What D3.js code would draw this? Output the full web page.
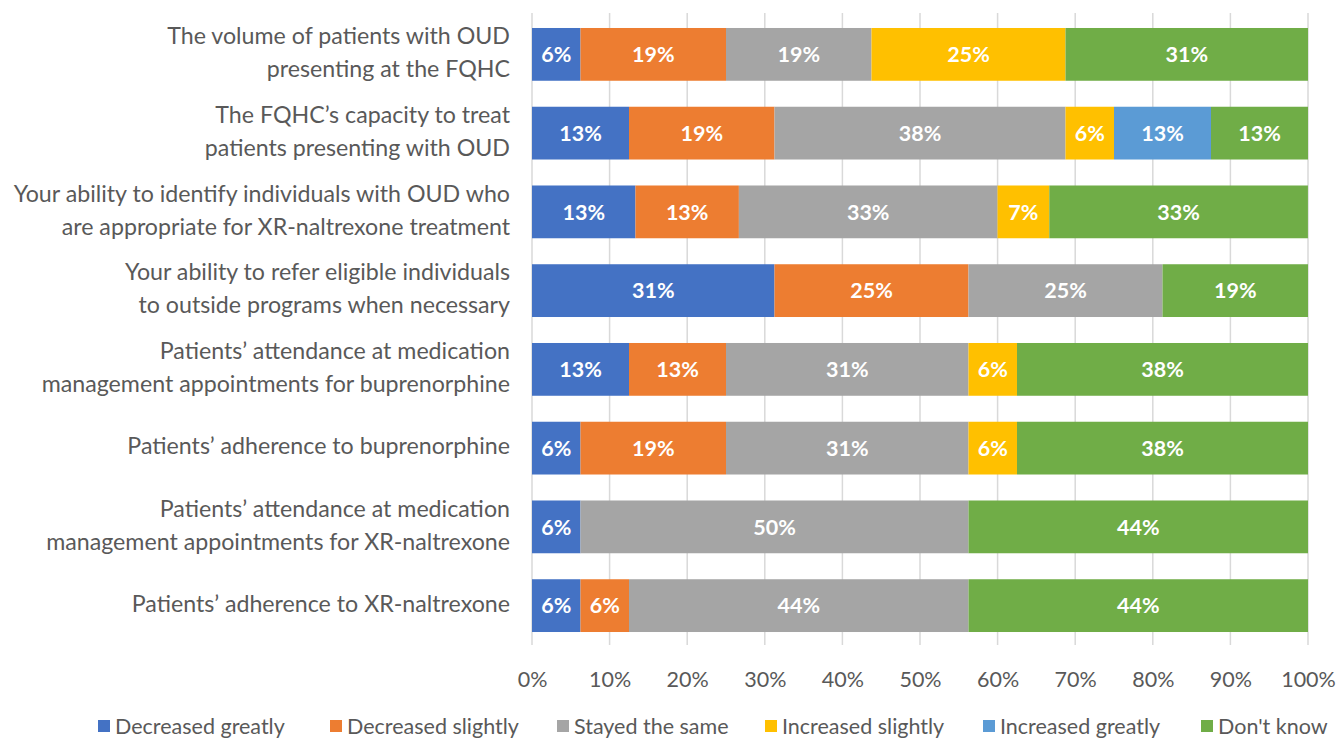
<!DOCTYPE html>
<html>
<head>
<meta charset="utf-8">
<script src="https://cdn.jsdelivr.net/npm/d3@7"></script>
<style>
  body { margin: 0; background: #fff; }
  text { font-family: Lato, "Open Sans", sans-serif; }
</style>
</head>
<body>
<script>
const width = 1338;
const height = 738;
const margin = {left: 532, right: 30, top: 15, bottom: 93};

// categories, top to bottom (split into display lines)
const categories = [
  ['The volume of patients with OUD', 'presenting at the FQHC'],
  ['The FQHC\u2019s capacity to treat', 'patients presenting with OUD'],
  ['Your ability to identify individuals with OUD who', 'are appropriate for XR-naltrexone treatment'],
  ['Your ability to refer eligible individuals', 'to outside programs when necessary'],
  ['Patients\u2019 attendance at medication', 'management appointments for buprenorphine'],
  ['Patients\u2019 adherence to buprenorphine'],
  ['Patients\u2019 attendance at medication', 'management appointments for XR-naltrexone'],
  ['Patients\u2019 adherence to XR-naltrexone']
];

const seriesNames = ['Decreased greatly', 'Decreased slightly', 'Stayed the same',
  'Increased slightly', 'Increased greatly', "Don't know"];
const seriesColors = ['#4472C4', '#ED7D31', '#A5A5A5', '#FFC000', '#5B9BD5', '#70AD47'];

// percentages per series, one value per category
const decreasedGreatly  = [6.25, 12.5, 13.33, 31.25, 12.5, 6.25, 6.25, 6.25];
const decreasedSlightly = [18.75, 18.75, 13.33, 25, 12.5, 18.75, 0, 6.25];
const stayedSame        = [18.75, 37.5, 33.33, 25, 31.25, 31.25, 50, 43.75];
const increasedSlightly = [25, 6.25, 6.67, 0, 6.25, 6.25, 0, 0];
const increasedGreatly  = [0, 12.5, 0, 0, 0, 0, 0, 0];
const dontKnow          = [31.25, 12.5, 33.33, 18.75, 37.5, 37.5, 43.75, 43.75];

const xTicks = [0, 10, 20, 30, 40, 50, 60, 70, 80, 90, 100];

const seriesValues = [decreasedGreatly, decreasedSlightly, stayedSame,
  increasedSlightly, increasedGreatly, dontKnow];

const table = categories.map((c, i) => {
  const row = {idx: i};
  seriesNames.forEach((s, j) => row[s] = seriesValues[j][i]);
  return row;
});

const stack = d3.stack().keys(seriesNames)(table);

const svg = d3.select('body').append('svg')
  .attr('width', width)
  .attr('height', height);

const plotH = height - margin.top - margin.bottom;

const g = svg.append('g')
  .attr('transform', `translate(${margin.left}, ${margin.top})`);

const xScale = d3.scaleLinear().domain([0, 100]).range([0, 776]);
const yScale = d3.scaleBand()
  .domain(d3.range(categories.length))
  .range([0, plotH])
  .paddingInner(0.33)
  .paddingOuter(0.165);

// gridlines
g.append('g')
  .selectAll('line')
  .data(xTicks)
  .join('line')
  .attr('x1', d => xScale(d))
  .attr('x2', d => xScale(d))
  .attr('y1', -2)
  .attr('y2', plotH)
  .attr('stroke', '#d9d9d9')
  .attr('stroke-width', 1.5);

// bars
const layers = g.selectAll('.layer')
  .data(stack)
  .join('g')
  .attr('class', 'layer')
  .attr('fill', (d, i) => seriesColors[i]);

layers.selectAll('rect')
  .data(d => d.filter(p => p[1] - p[0] > 0))
  .join('rect')
  .attr('x', d => xScale(d[0]))
  .attr('width', d => xScale(d[1]) - xScale(d[0]))
  .attr('y', d => yScale(d.data.idx))
  .attr('height', yScale.bandwidth());

layers.selectAll('text')
  .data(d => d.filter(p => p[1] - p[0] > 0))
  .join('text')
  .attr('x', d => xScale((d[0] + d[1]) / 2))
  .attr('y', d => yScale(d.data.idx) + yScale.bandwidth() / 2)
  .attr('dy', '0.36em')
  .attr('text-anchor', 'middle')
  .attr('fill', '#fff')
  .attr('font-weight', 'bold')
  .attr('font-size', 21.5)
  .text(d => Math.round(d[1] - d[0]) + '%');

// x axis
const xAxis = d3.axisBottom(xScale)
  .tickValues(xTicks)
  .tickFormat(d => d + '%')
  .tickSize(0)
  .tickPadding(0);

const xGroup = g.append('g')
  .attr('transform', `translate(0, ${plotH + 27})`)
  .call(xAxis);
xGroup.select('.domain').remove();
xGroup.selectAll('text')
  .attr('font-size', 21.5)
  .attr('fill', '#595959')
  .attr('font-family', 'Lato, "Open Sans", sans-serif');

// category labels
const catGroup = svg.append('g');
categories.forEach((lines, i) => {
  const cy = margin.top + yScale(i) + yScale.bandwidth() / 2 - 2;
  const lh = 33;
  const t = catGroup.append('text')
    .attr('text-anchor', 'end')
    .attr('font-size', 23.2)
    .attr('fill', '#595959');
  lines.forEach((line, k) => {
    t.append('tspan')
      .attr('x', 510)
      .attr('y', cy + (k - (lines.length - 1) / 2) * lh)
      .attr('dy', '0.36em')
      .text(line);
  });
});

// legend
const legendX = [98, 330, 557, 765, 983, 1201];
const legend = svg.append('g')
  .attr('transform', 'translate(0, 726)');
const items = legend.selectAll('g')
  .data(seriesNames)
  .join('g')
  .attr('transform', (d, i) => `translate(${legendX[i]}, 0)`);
items.append('rect')
  .attr('x', 0)
  .attr('y', -6)
  .attr('width', 12)
  .attr('height', 12)
  .attr('fill', (d, i) => seriesColors[i]);
items.append('text')
  .attr('x', 17)
  .attr('dy', '0.36em')
  .attr('font-size', 21.5)
  .attr('fill', '#595959')
  .text(d => d);
</script>
</body>
</html>
